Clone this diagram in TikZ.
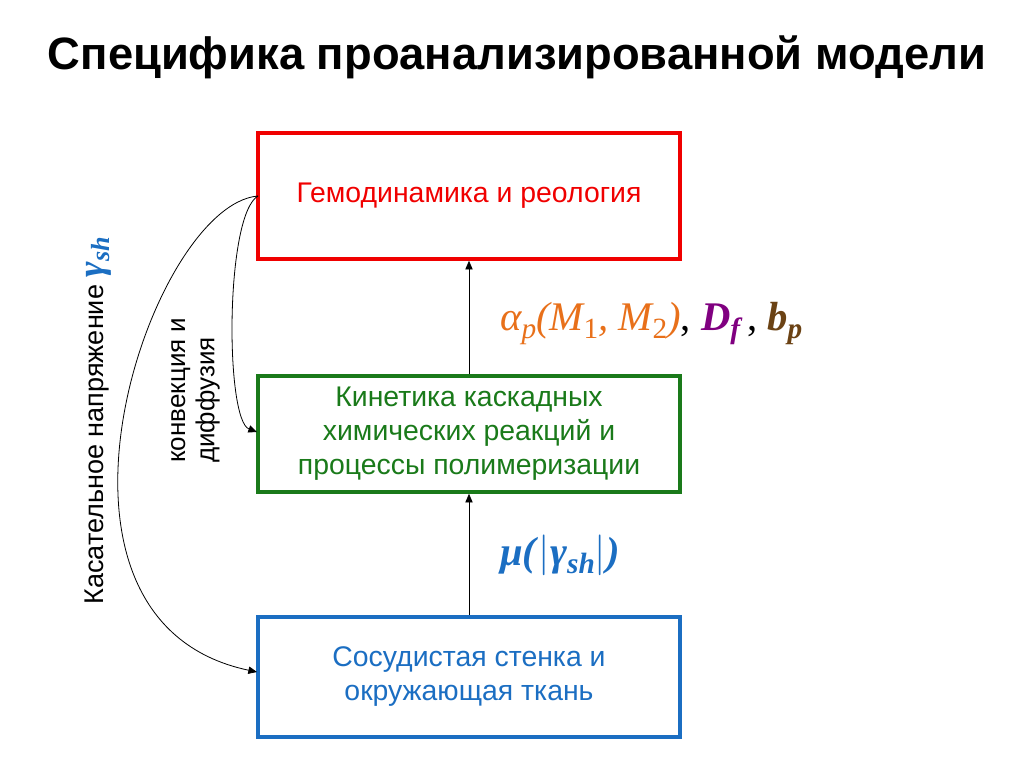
\documentclass[tikz,border=0pt]{standalone}
\usepackage{fontspec}
\setmainfont{Liberation Sans}
\newfontfamily\tnr{Liberation Serif}
\usetikzlibrary{arrows.meta}
\definecolor{cred}{HTML}{F00000}
\definecolor{cgreen}{HTML}{1A7A1A}
\definecolor{cblue}{HTML}{1B6EC2}
\definecolor{corange}{HTML}{E8701A}
\definecolor{cpurple}{HTML}{800080}
\definecolor{cbrown}{HTML}{6B4214}
\newcommand\lowsub[1]{\raisebox{-6pt}{\fontsize{22}{22}\selectfont #1}}
\begin{document}
\begin{tikzpicture}[x=0.75pt,y=-0.75pt,
  box/.style={draw, line width=2.7pt, minimum width=316.5pt, inner sep=0pt, align=center,
    font=\fontsize{21.3}{25.5}\selectfont},
  conn/.style={-{Triangle[length=6.5pt,width=5.5pt]}, line width=0.6pt},
  lbl/.style={inner sep=0pt, font=\fontsize{30.5}{32}\selectfont\tnr},
  side/.style={rotate=90, inner sep=0pt, font=\fontsize{19.5}{22}\selectfont}]
\useasboundingbox (0,0) rectangle (1024,768);
\node[font=\fontsize{34}{36}\selectfont\bfseries] (title) at (517,57) {Специфика проанализированной модели};
\node[box, draw=cred, text=cred, minimum height=94.5pt] (red) at (469,196) {Гемодинамика и реология};
\node[box, draw=cgreen, text=cgreen, minimum height=87pt] (green) at (469,434) {Кинетика каскадных\\химических реакций и\\процессы полимеризации};
\node[box, draw=cblue, text=cblue, minimum height=90pt] (blue) at (469,677) {Сосудистая стенка и\\окружающая ткань};
\coordinate (rw) at (258,196);
\coordinate (gw) at (257,432);
\coordinate (bw) at (257,672);
\draw[conn] (blue.north) -- (green.south);
\draw[conn] (green.north) -- (red.south);
\draw[conn] (rw) .. controls (225,215) and (225,420) .. (gw);
\draw[conn] (rw) .. controls (150,205) and (10,620) .. (bw);
\node[lbl, anchor=base west] (alab) at (500,330) {{\itshape\color{corange}α\lowsub{p}(M\lowsub{\upshape 1}, M\lowsub{\upshape 2})}, {\bfseries\itshape\color{cpurple}D\lowsub{f}}\,, {\bfseries\itshape\color{cbrown}b\lowsub{p}}};
\node[lbl, anchor=base west, text=cblue] (mulab) at (500,565) {\bfseries\itshape μ(\textup{\mdseries\sffamily|}γ\lowsub{sh}\textup{\mdseries\sffamily|})};
\node[side, anchor=base west] (tau) at (103,605) {\fontsize{20.3}{22}\selectfont Касательное напряжение {\tnr\bfseries\itshape\color{cblue}\fontsize{28}{30}\selectfont γ\textsubscript{sh}}};
\node[side, anchor=south west, align=left] (conv) at (220,463) {конвекция и\\диффузия};
\end{tikzpicture}
\end{document}
